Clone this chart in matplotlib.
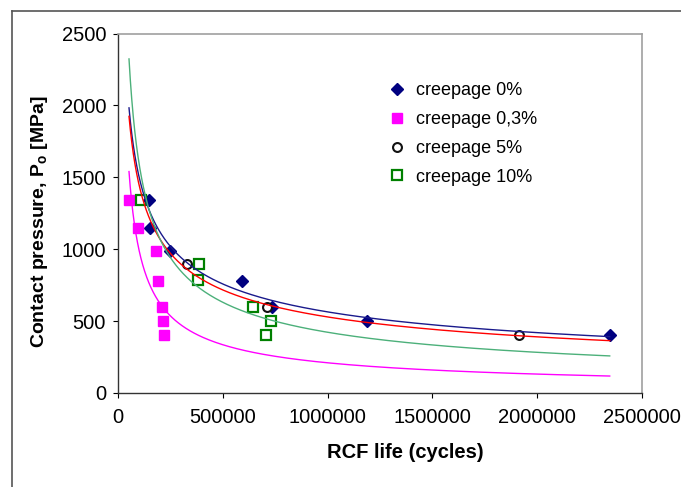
import numpy as np
import matplotlib
matplotlib.use("Agg")
import matplotlib.pyplot as plt
from matplotlib.lines import Line2D

plt.rcParams['font.family'] = ['Liberation Sans', 'DejaVu Sans']
plt.rcParams['mathtext.fontset'] = 'custom'
plt.rcParams['mathtext.rm'] = 'Liberation Sans'
plt.rcParams['mathtext.bf'] = 'Liberation Sans:bold'

# RCF life (cycles) and contact pressure (MPa)
n_0 = [150000, 155000, 250000, 590000, 735000, 1190000, 2345000]
p_0 = [1340, 1150, 985, 780, 600, 500, 400]

n_03 = [52500, 94000, 180000, 191000, 208000, 216000, 221000]
p_03 = [1340, 1150, 985, 780, 600, 500, 400]

n_5 = [328000, 710000, 1914000]
p_5 = [900, 600, 400]

n_10 = [111000, 387000, 381000, 643000, 729000, 705000]
p_10 = [1340, 900, 785, 600, 500, 400]

labels = ["creepage 0%", "creepage 0,3%", "creepage 5%", "creepage 10%"]

# power trend lines P = a * N^b  (0%, 0.3%, 5%, 10%)
trend_a = [204600, 2389500, 225200, 1249400]
trend_b = [-0.4266, -0.676, -0.4382, -0.5785]
trend_colors = ['#1a1a8c', '#ff00ff', '#ff0000', '#4cb07a']
trend_range = [52500, 2346000]

x_ticks = [0, 500000, 1000000, 1500000, 2000000, 2500000]
y_ticks = [0, 500, 1000, 1500, 2000, 2500]

fig = plt.figure(figsize=(6.81, 4.87), dpi=100)
ax = fig.add_axes([118/681, 1-393/487, (642-118)/681, (393-33.5)/487])

# markers
ax.plot(n_0, p_0, linestyle='none', marker='D', ms=6.4, color='#000080',
        label=labels[0], zorder=2)
ax.plot(n_03, p_03, linestyle='none', marker='s', ms=7.4, color='#ff00ff',
        label=labels[1], zorder=2)
ax.plot(n_5, p_5, linestyle='none', marker='o', ms=6.4, mfc='white',
        mec='#111111', mew=1.5, label=labels[2], zorder=2)
ax.plot(n_10, p_10, linestyle='none', marker='s', ms=7.4, mfc='none',
        mec='#008000', mew=1.6, label=labels[3], zorder=2)

# trend lines
nn = np.geomspace(trend_range[0], trend_range[1], 400)
for a, b, c in zip(trend_a, trend_b, trend_colors):
    ax.plot(nn, a * nn ** b, color=c, lw=1.0, zorder=3)

ax.set_xlim(0, 2500000)
ax.set_ylim(0, 2500)
ax.set_xticks(x_ticks)
ax.set_xticklabels([str(v) for v in x_ticks])
ax.set_yticks(y_ticks)
ax.set_yticklabels([str(v) for v in y_ticks])
ax.tick_params(direction='out', length=3.6, width=0.8, labelsize=14.5,
               colors='black')
ax.tick_params(axis='x', pad=7)
ax.tick_params(axis='y', pad=5)

for s in ['top', 'right']:
    ax.spines[s].set_color('#a0a0a0')
    ax.spines[s].set_linewidth(1.2)
for s in ['left', 'bottom']:
    ax.spines[s].set_color('#333333')
    ax.spines[s].set_linewidth(1.0)

ax.set_xlabel("RCF life (cycles)", fontsize=14.5, fontweight='bold')
ax.xaxis.set_label_coords(0.548, -0.139)
ax.set_ylabel(r"Contact pressure, P$_{\mathbf{o}}$ [MPa]", fontsize=14,
              fontweight='bold')
ax.yaxis.set_label_coords(-0.13, 0.476)

ax.legend(loc='upper left', bbox_to_anchor=(0.515, 0.865), frameon=False,
          fontsize=13, borderpad=0, borderaxespad=0, handlelength=1.0,
          handletextpad=0.57, labelspacing=0.66, numpoints=1)

# outer chart frame (only top and left edges visible)
fig.add_artist(Line2D([12/681, 1.0], [1-10.7/487, 1-10.7/487],
                      transform=fig.transFigure, color='#555555', lw=1.2))
fig.add_artist(Line2D([12/681, 12/681], [0.0, 1-10.7/487],
                      transform=fig.transFigure, color='#555555', lw=1.2))

fig.savefig("out.png", dpi=100)
